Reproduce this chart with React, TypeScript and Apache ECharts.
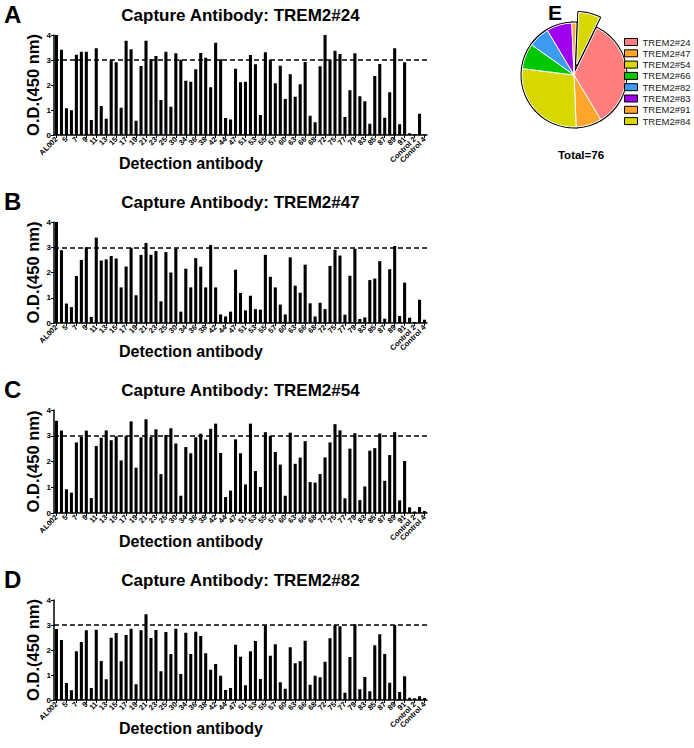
import React, { useEffect, useRef } from "react";
import * as echarts from "echarts";

const categories = [
  "AL002", "4", "5", "6", "7", "8", "9", "10", "11", "12", "13", "14", "15", "16", "17", "18", "19", "20", "21", "22",
  "23", "24", "25", "28", "30", "31", "34", "35", "36", "37", "38", "40", "42", "43", "44", "46", "47", "48", "51", "52",
  "53", "54", "55", "56", "57", "59", "60", "61", "63", "64", "66", "67", "68", "69", "72", "74", "75", "76", "77", "78",
  "79", "82", "83", "84", "85", "86", "87", "88", "89", "90", "91", "Control 1", "Control 2", "Control 3", "Control 4",
];

const capture24 = [
  4.0, 3.41, 1.07, 0.99, 3.21, 3.33, 3.33, 0.6, 3.47, 1.16, 0.65, 3.01, 2.91, 1.09, 3.77, 3.43, 0.57, 2.76, 3.77, 3.03,
  3.16, 1.4, 3.33, 1.13, 3.27, 3.01, 2.17, 2.13, 2.63, 3.28, 3.09, 1.91, 3.69, 3.03, 0.68, 0.62, 2.65, 2.11, 2.13, 3.2,
  2.83, 0.8, 3.31, 3.01, 2.07, 2.77, 1.44, 2.43, 1.53, 2.03, 2.92, 0.77, 0.51, 2.75, 4.0, 3.01, 3.37, 3.24, 0.72, 1.79,
  3.27, 1.55, 1.35, 0.45, 2.36, 2.84, 0.69, 1.71, 3.47, 0.43, 2.91, 0.07, 0.04, 0.85, 0.02,
];

const capture47 = [
  4.0, 2.88, 0.77, 0.63, 1.86, 2.5, 3.0, 0.24, 3.38, 2.48, 2.52, 2.65, 2.55, 1.41, 2.24, 2.98, 1.1, 2.7, 3.17, 2.7,
  2.85, 0.86, 2.81, 2.0, 2.95, 0.45, 2.15, 1.41, 2.57, 2.23, 1.41, 3.09, 1.41, 0.34, 0.26, 0.45, 2.11, 1.19, 0.5, 1.08,
  0.55, 0.53, 2.7, 1.83, 1.41, 0.73, 0.34, 2.6, 1.48, 1.2, 2.31, 0.78, 0.26, 0.8, 0.55, 2.26, 2.9, 2.67, 0.33, 1.87,
  2.94, 0.16, 0.22, 1.7, 1.76, 2.45, 0.17, 2.13, 3.05, 0.28, 1.6, 0.21, 0.04, 0.92, 0.13,
];

const capture54 = [
  3.58, 3.2, 0.92, 0.79, 2.74, 2.95, 3.2, 0.58, 2.6, 2.92, 3.21, 2.83, 2.98, 2.04, 3.0, 3.56, 1.76, 2.94, 3.64, 2.95,
  3.25, 1.51, 3.03, 3.29, 2.7, 0.67, 2.56, 2.32, 2.94, 3.08, 2.85, 3.27, 3.47, 2.33, 0.62, 0.87, 2.86, 2.32, 1.11, 3.47,
  1.63, 1.01, 3.14, 2.99, 2.37, 1.88, 0.67, 3.12, 1.91, 2.15, 2.79, 1.2, 1.18, 1.51, 2.16, 2.74, 3.45, 3.21, 0.57, 2.5,
  3.1, 0.5, 1.03, 2.42, 2.52, 3.09, 1.25, 2.25, 3.14, 0.49, 2.02, 0.22, 0.06, 0.23, 0.08,
];

const capture82 = [
  2.84, 2.4, 0.68, 0.39, 1.95, 2.32, 2.79, 0.48, 2.81, 1.56, 0.83, 2.49, 2.68, 1.55, 2.6, 2.85, 0.63, 2.79, 3.43, 2.48,
  2.8, 1.15, 2.72, 1.84, 2.85, 1.04, 2.69, 1.84, 2.73, 2.56, 1.87, 1.21, 1.44, 0.97, 0.4, 0.48, 2.21, 1.73, 0.59, 1.95,
  2.36, 0.84, 2.99, 1.77, 2.23, 0.71, 0.45, 2.11, 1.47, 1.55, 2.37, 0.61, 0.97, 0.91, 1.53, 2.47, 2.99, 2.95, 0.29, 1.72,
  3.03, 0.43, 0.92, 0.35, 2.19, 2.63, 1.84, 0.69, 3.0, 0.32, 0.95, 0.09, 0.07, 0.15, 0.08,
];

const panelLetters = ["A", "B", "C", "D"];
const captureTitles = [
  "Capture Antibody: TREM2#24",
  "Capture Antibody: TREM2#47",
  "Capture Antibody: TREM2#54",
  "Capture Antibody: TREM2#82",
];
const yMin = 0;
const yMax = 4;
const yStep = 1;
const cutoff = 3;
const yTitle = "O.D.(450 nm)";
const xTitle = "Detection antibody";

const pieNames = ["TREM2#24", "TREM2#47", "TREM2#54", "TREM2#66", "TREM2#82", "TREM2#83", "TREM2#91", "TREM2#84"];
const pieValues = [26, 6, 21, 6, 5, 6, 1, 5];
const pieColors = ["#FF7F7F", "#FFA52C", "#D8D800", "#00C800", "#3A9BF0", "#A000F0", "#FFA52C", "#D8D800"];
const totalLabel = "Total=76";

const FONT = '"Liberation Sans", Arial, Helvetica, sans-serif';

export default function App() {
  const ref = useRef<HTMLDivElement>(null);

  useEffect(() => {
    if (!ref.current) return;
    const chart = echarts.init(ref.current, undefined, { renderer: "svg" });

    const seriesData = [capture24, capture47, capture54, capture82];
    const gridTops = [35, 222, 410, 600];
    const gridHeights = [100, 101, 103, 100];
    const gridLeft = 54;
    const gridWidth = 373;

    const grids = gridTops.map((t, i) => ({
      left: gridLeft,
      top: t,
      width: gridWidth,
      height: gridHeights[i],
      containLabel: false,
    }));

    const xAxes = gridTops.map((_, i) => ({
      type: "category",
      gridIndex: i,
      data: categories,
      boundaryGap: true,
      axisLine: { show: true, lineStyle: { color: "#000", width: 1.5 } },
      axisTick: { show: true, interval: 1, alignWithLabel: true, length: 3, lineStyle: { color: "#000", width: 1 } },
      axisLabel: {
        interval: 0,
        rotate: 45,
        fontSize: 7.5,
        fontWeight: "bold",
        fontFamily: FONT,
        color: "#000",
        margin: 3,
        hideOverlap: false,
        formatter: (value: string, index: number) => (index % 2 === 0 ? value : ""),
      },
      splitLine: { show: false },
    }));

    const yAxes = gridTops.map((_, i) => ({
      type: "value",
      gridIndex: i,
      min: yMin,
      max: yMax,
      interval: yStep,
      axisLine: { show: true, lineStyle: { color: "#000", width: 1.5 } },
      axisTick: { show: true, length: 3, lineStyle: { color: "#000", width: 1 } },
      axisLabel: { fontSize: 8, fontWeight: "bold", fontFamily: FONT, color: "#000", margin: 3 },
      splitLine: { show: false },
    }));

    const barSeries = seriesData.map((d, i) => ({
      type: "bar",
      xAxisIndex: i,
      yAxisIndex: i,
      data: d,
      barWidth: "62%",
      itemStyle: { color: "#000" },
      silent: true,
      markLine: {
        silent: true,
        symbol: "none",
        label: { show: false },
        lineStyle: { color: "#000", type: [5, 3], width: 1.5 },
        data: [{ yAxis: cutoff }],
      },
    }));

    const pieCenter = [574, 75];
    const pieRadius = 52;
    const pieData = pieNames.map((n, i) => ({
      name: n,
      value: pieValues[i],
      selected: i === pieNames.length - 1,
      itemStyle: { color: pieColors[i] },
    }));

    const pieBase = {
      type: "pie",
      center: pieCenter,
      radius: pieRadius,
      startAngle: 64,
      clockwise: true,
      selectedMode: "single",
      selectedOffset: 11,
      label: { show: false },
      labelLine: { show: false },
      silent: true,
      emphasis: { disabled: true },
    };

    const pieFill = {
      ...pieBase,
      name: "fill",
      z: 3,
      data: pieData,
      itemStyle: { borderColor: "#fff", borderWidth: 1 },
    };

    const pieOutline = {
      ...pieBase,
      name: "outline",
      z: 2,
      data: pieData.map((d) => ({ ...d, itemStyle: { color: "#000" } })),
      itemStyle: { borderColor: "#000", borderWidth: 3 },
    };

    const graphics: any[] = [];
    gridTops.forEach((t, i) => {
      const h = gridHeights[i];
      graphics.push({
        type: "text",
        x: 4,
        y: t - 33,
        style: { text: panelLetters[i], font: `bold 24px ${FONT}`, fill: "#000", textAlign: "left", textVerticalAlign: "top" },
      });
      graphics.push({
        type: "text",
        x: gridLeft + gridWidth / 2,
        y: t - 20,
        style: { text: captureTitles[i], font: `bold 17px ${FONT}`, fill: "#000", textAlign: "center", textVerticalAlign: "middle" },
      });
      graphics.push({
        type: "text",
        x: 33,
        y: t + h / 2,
        rotation: Math.PI / 2,
        style: { text: yTitle, font: `bold 16.5px ${FONT}`, fill: "#000", textAlign: "center", textVerticalAlign: "middle" },
      });
      graphics.push({
        type: "text",
        x: 191,
        y: t + h + 28,
        style: { text: xTitle, font: `bold 16px ${FONT}`, fill: "#000", textAlign: "center", textVerticalAlign: "middle" },
      });
    });
    graphics.push({
      type: "text",
      x: 548,
      y: 2,
      style: { text: "E", font: `bold 21px ${FONT}`, fill: "#000", textAlign: "left", textVerticalAlign: "top" },
    });
    graphics.push({
      type: "text",
      x: 581,
      y: 155,
      style: { text: totalLabel, font: `bold 11.5px ${FONT}`, fill: "#000", textAlign: "center", textVerticalAlign: "middle" },
    });

    chart.setOption({
      animation: false,
      backgroundColor: "#fff",
      grid: grids,
      xAxis: xAxes,
      yAxis: yAxes,
      legend: {
        data: pieNames.map((n, i) => ({
          name: n,
          itemStyle: { color: pieColors[i], borderColor: "#000", borderWidth: 1 },
        })),
        orient: "vertical",
        left: 624,
        top: 36.5,
        padding: 0,
        icon: "rect",
        itemWidth: 13,
        itemHeight: 7,
        itemGap: 0.3,
        selectedMode: false,
        textStyle: { fontSize: 9.5, fontFamily: FONT, color: "#222", lineHeight: 11, overflow: "none" },
      },
      series: [pieFill, pieOutline, ...barSeries],
      graphic: graphics,
    });

    return () => {
      chart.dispose();
    };
  }, []);

  return (
    <div
      ref={ref}
      style={{ position: "absolute", left: 0, top: 0, width: 694, height: 748, background: "#fff" }}
    />
  );
}
